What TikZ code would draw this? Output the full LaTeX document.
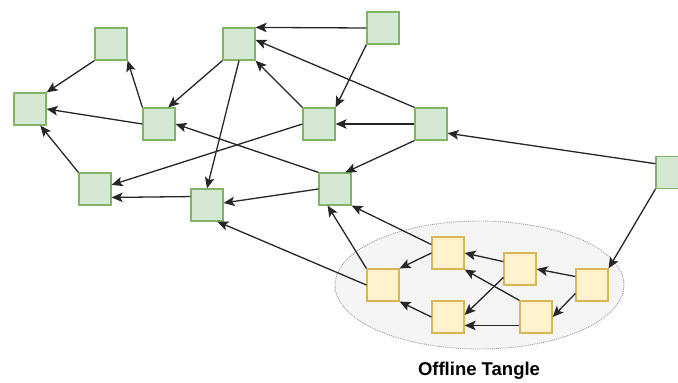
\documentclass[tikz,border=0pt]{standalone}
\usepackage{fontspec}
\setmainfont{Liberation Sans}
\usetikzlibrary{arrows.meta,shapes.geometric}
\definecolor{sitefill}{HTML}{D5E8D4}
\definecolor{sitedraw}{HTML}{82B366}
\definecolor{offfill}{HTML}{FFF2CC}
\definecolor{offdraw}{HTML}{D6B656}
\definecolor{cloudfill}{HTML}{F5F5F5}
\definecolor{clouddraw}{HTML}{9A9A9A}
\begin{document}
\begin{tikzpicture}[x=1pt,y=-1pt]
 \tikzset{site/.style={draw=sitedraw, fill=sitefill, line width=1.2pt, minimum size=32pt, inner sep=0pt},
          offsite/.style={draw=offdraw, fill=offfill, line width=1.2pt, minimum size=32pt, inner sep=0pt},
          directed/.style={-{Stealth[length=11pt,width=9.5pt,inset=2.5pt]}, line width=1.3pt, black!85}}
  \useasboundingbox (0,0) rectangle (678,383);
  \node[draw=clouddraw, fill=cloudfill, densely dotted, line width=0.9pt, ellipse, minimum width=289pt, minimum height=128pt, inner sep=0pt] (tangle) at (479.5,285) {};
  \node[font=\bfseries\fontsize{18.5}{20}\selectfont] (label) at (479,371) {Offline Tangle};
  \node[site] (A) at (111,44) {};
  \node[site] (B) at (30,109) {};
  \node[site] (C) at (239,44) {};
  \node[site] (D) at (159,124) {};
  \node[site] (E) at (319,124) {};
  \node[site] (F) at (95,189) {};
  \node[site] (G) at (207,205) {};
  \node[site] (H) at (335,189) {};
  \node[site] (I) at (383,28) {};
  \node[site] (J) at (431,124) {};
  \node[site] (K) at (672,172.5) {};
  \node[offsite] (O1) at (448,253) {};
  \node[offsite] (O2) at (383,285) {};
  \node[offsite] (O3) at (448,317) {};
  \node[offsite] (O4) at (520,269) {};
  \node[offsite] (O5) at (536,317) {};
  \node[offsite] (O6) at (592,285) {};
  \draw[directed] (I.west) -- (C.north east);
  \draw[directed] (I.south west) -- (E.north east);
  \draw[directed] (J.north west) -- (C.14);
  \draw[directed] (E.north west) -- (C.south east);
  \draw[directed] (C.south west) -- (D.61);
  \draw[directed] (C.south) -- (G.north);
  \draw[directed] (D.north west) -- (A.south east);
  \draw[directed] (A.south west) -- (B.north east);
  \draw[directed] (D.west) -- (B.east);
  \draw[directed] (F.north west) -- (B.-58);
  \draw[directed] (E.west) -- (F.14);
  \draw[directed] (G.153) -- (F.-27);
  \draw[directed] (H.west) -- (G.7);
  \draw[directed] (H.north west) -- (D.east);
  \draw[directed] (J.west) -- (E.east);
  \draw[directed] (J.south west) -- (H.58);
  \draw[directed] (K.152) -- (J.-29);
  \draw[directed] (K.south west) -- (O6.north east);
  \draw[directed] (O2.north west) -- (H.-114);
  \draw[directed] (O1.153) -- (H.south east);
  \draw[directed] (O2.west) -- (G.-58);
  \draw[directed] (O1.west) -- (O2.north east);
  \draw[directed] (O3.west) -- (O2.south east);
  \draw[directed] (O4.156) -- (O1.east);
  \draw[directed] (O4.-153) -- (O3.7);
  \draw[directed] (O5.north west) -- (O1.south east);
  \draw[directed] (O5.-153) -- (O3.-27);
  \draw[directed] (O6.153) -- (O4.east);
  \draw[directed] (O6.-153) -- (O5.east);
\end{tikzpicture}
\end{document}
